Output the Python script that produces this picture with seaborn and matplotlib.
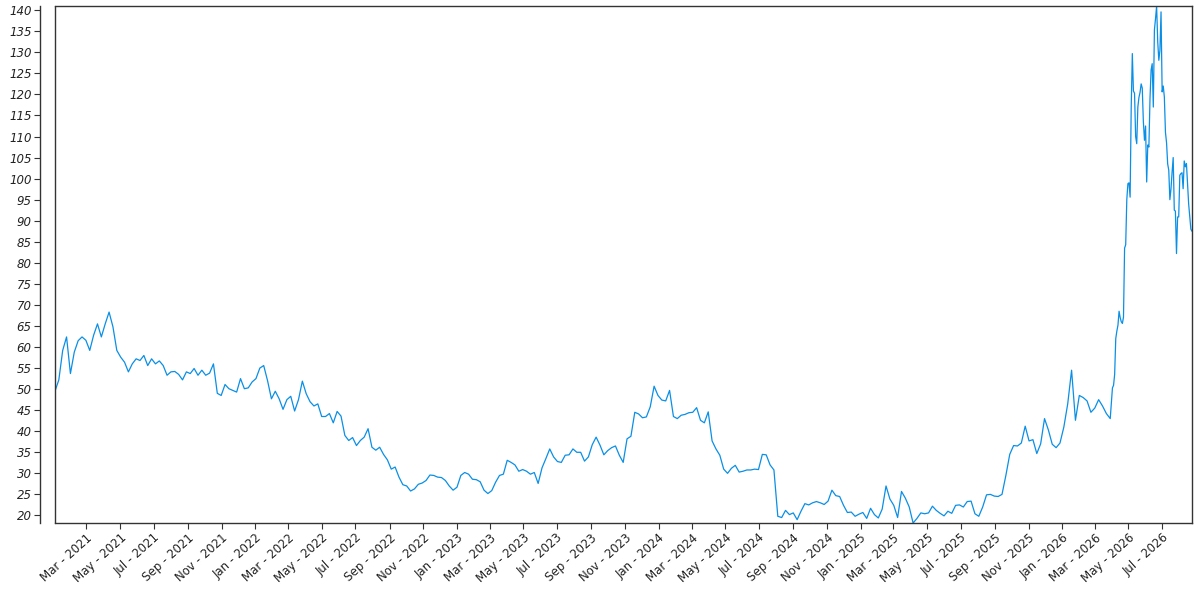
import numpy as np
import pandas as pd
import matplotlib
matplotlib.use("Agg")
import matplotlib.pyplot as plt
import matplotlib.dates as mdates
from matplotlib.lines import Line2D
import seaborn as sns

# weekly closes, first week 2021-01-03 .. 2026-03-29
weekly_start = "2021-01-03"
weekly_values = [
    49.5, 52.2, 59.2, 62.4, 53.7, 58.8, 61.5, 62.4, 61.6, 59.2,
    62.8, 65.5, 62.4, 65.5, 68.3, 64.8, 59.2, 57.6, 56.4, 54.1,
    56.0, 57.2, 56.8, 58.0, 55.6, 57.2, 56.0, 56.7, 55.6, 53.3,
    54.1, 54.2, 53.5, 52.2, 54.1, 53.7, 54.9, 53.3, 54.5, 53.3,
    53.8, 56.0, 49.0, 48.5, 51.1, 50.1, 49.7, 49.3, 52.5, 50.1,
    50.3, 51.7, 52.5, 55.0, 55.6, 52.0, 47.7, 49.5, 47.7, 45.2,
    47.5, 48.3, 44.8, 47.5, 51.9, 48.9, 47.0, 46.0, 46.5, 43.5,
    43.5, 44.2, 42.0, 44.7, 43.6, 39.0, 37.8, 38.5, 36.6, 37.8,
    38.6, 40.6, 36.2, 35.5, 36.2, 34.5, 33.2, 31.0, 31.5, 29.1,
    27.3, 27.0, 25.8, 26.3, 27.4, 27.7, 28.3, 29.6, 29.5, 29.1,
    29.0, 28.3, 27.0, 26.0, 26.7, 29.5, 30.2, 29.8, 28.6, 28.5,
    28.0, 26.0, 25.2, 25.9, 27.9, 29.5, 29.8, 33.1, 32.6, 32.0,
    30.5, 30.9, 30.5, 29.8, 30.2, 27.6, 31.3, 33.5, 35.8, 33.9,
    32.8, 32.6, 34.3, 34.4, 35.8, 35.0, 35.0, 32.9, 33.9, 36.8,
    38.6, 36.7, 34.4, 35.4, 36.1, 36.5, 34.3, 32.6, 38.2, 38.8,
    44.5, 44.1, 43.2, 43.4, 45.8, 50.7, 48.5, 47.4, 47.2, 49.7,
    43.5, 43.0, 43.8, 44.0, 44.4, 44.5, 45.6, 42.6, 42.0, 44.6,
    37.7, 35.8, 34.3, 31.0, 30.0, 31.2, 31.9, 30.3, 30.5, 30.8,
    30.8, 31.0, 30.9, 34.5, 34.4, 32.0, 30.8, 19.8, 19.5, 21.2,
    20.2, 20.6, 19.0, 21.0, 22.8, 22.5, 23.0, 23.3, 23.0, 22.6,
    23.4, 26.0, 24.7, 24.5, 22.4, 20.7, 20.8, 19.8, 20.3, 20.7,
    19.3, 21.7, 20.2, 19.4, 21.5, 27.0, 23.9, 22.4, 19.5, 25.7,
    24.1, 22.0, 18.2, 19.3, 20.6, 20.4, 20.6, 22.2, 21.2, 20.5,
    19.9, 21.0, 20.5, 22.4, 22.5, 22.0, 23.3, 23.4, 20.4, 19.8,
    22.0, 24.9, 25.0, 24.6, 24.5, 25.0, 29.5, 34.5, 36.6, 36.5,
    37.2, 41.2, 37.7, 38.0, 34.7, 37.0, 43.0, 40.3, 36.9, 36.1,
    37.2, 41.0, 46.5, 54.5, 42.6, 48.5, 48.0, 47.2, 44.5, 45.5,
    47.5, 46.0, 44.2, 43.0,
]

# every second day from 2026-04-02 (the spike)
tail_start = "2026-04-02"
tail_values = [
    50.3, 50.9, 53.5, 62.0, 63.8, 65.2, 68.5, 67.0, 66.0, 65.6,
    67.1, 83.5, 84.3, 95.0, 98.8, 99.0, 95.6, 117.0, 129.7, 120.8,
    120.3, 110.0, 108.3, 117.0, 119.3, 120.5, 122.5, 121.5, 113.5, 109.1,
    112.5, 99.2, 108.0, 107.5, 119.0, 125.8, 127.3, 117.0, 135.3, 138.0,
    141.0, 132.5, 128.1, 130.5, 139.6, 120.6, 122.0, 119.4, 111.0, 108.5,
    103.5, 102.0, 95.0, 97.5, 101.5, 105.0, 92.5, 92.3, 82.2, 90.9,
    90.9, 100.8, 101.2, 101.4, 97.6, 104.2, 102.8, 103.6, 99.0, 94.0,
    91.0, 88.0, 87.5,
]

y_ticks = list(range(20, 141, 5))
tick_months = [1, 3, 5, 7, 9, 11]

df = pd.concat([
    pd.DataFrame({"date": pd.date_range(weekly_start, periods=len(weekly_values), freq="7D"),
                  "price": weekly_values}),
    pd.DataFrame({"date": pd.date_range(tail_start, periods=len(tail_values), freq="2D"),
                  "price": tail_values}),
], ignore_index=True)

sns.set_style("white")
plt.rcParams["font.family"] = ["DejaVu Sans"]

fig = plt.figure(figsize=(12, 6), dpi=100)
ax = fig.add_axes([0.0458, 0.1283, 0.9475, 0.8617])

sns.lineplot(data=df, x="date", y="price", ax=ax, color="#0a8fe6", linewidth=0.9)

ax.margins(x=0, y=0)
ax.set_xlim(df["date"].min(), df["date"].max())
ax.set_ylim(df["price"].min(), df["price"].max())
ax.set_xlabel("")
ax.set_ylabel("")

ax.set_yticks(y_ticks)
ax.xaxis.set_major_locator(mdates.MonthLocator(bymonth=tick_months))
ax.xaxis.set_major_formatter(mdates.DateFormatter("%b - %Y"))

edge = "#333333"
for side in ["top", "right", "bottom", "left"]:
    ax.spines[side].set_color(edge)
    ax.spines[side].set_linewidth(1.0)
ax.spines["left"].set_position(("outward", 10.8))
# close the box where the offset y axis left a gap
ax.add_line(Line2D([0, 0], [0, 1], transform=ax.transAxes, color=edge, linewidth=1.0, clip_on=False))

ax.tick_params(axis="both", which="major", direction="out", length=4, width=0.8,
               color=edge, labelcolor="#222222", labelsize=8.5)
ax.tick_params(axis="x", bottom=True, pad=2)
ax.tick_params(axis="y", left=True, pad=2)
for lbl in ax.get_yticklabels():
    lbl.set_fontstyle("italic")
for lbl in ax.get_xticklabels():
    lbl.set_rotation(42)
    lbl.set_ha("right")
    lbl.set_rotation_mode("anchor")

fig.savefig("out.png", dpi=100)
